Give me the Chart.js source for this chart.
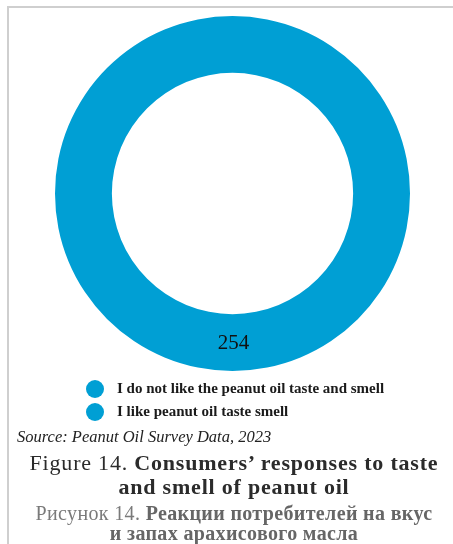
<!DOCTYPE html>
<html lang="en">
<head>
<meta charset="utf-8">
<title>Consumers' responses to taste and smell of peanut oil</title>
<script src="https://cdn.jsdelivr.net/npm/chart.js@4.4.1/dist/chart.umd.min.js"></script>
<style>
  html, body { margin: 0; padding: 0; background: #fff; }
  body { width: 453px; height: 544px; position: relative; overflow: hidden; }
  .frame {
    position: absolute; left: 7px; top: 6px; right: -4px; bottom: -4px;
    border-top: 2px solid #cfcfcf; border-left: 2px solid #cfcfcf;
  }
  .chart-box { position: absolute; left: 0; top: 0; width: 453px; height: 387px; }
  .legend { position: absolute; left: 86px; top: 377px; margin: 0; padding: 0; list-style: none; }
  .legend li {
    display: flex; align-items: center; height: 23px;
    font: bold 15px "Liberation Serif", "Times New Roman", serif; color: #1a1a1a;
  }
  .legend i { display: inline-block; width: 18px; height: 18px; border-radius: 50%; margin-right: 13px; }
  .source {
    position: absolute; left: 17px; top: 427px;
    font: italic 16.5px "Liberation Serif", serif; color: #222;
  }
  .caption { position: absolute; left: 0; width: 468px; text-align: center; font-family: "Liberation Serif", serif; }
  .caption.en { top: 451px; font-size: 22px; line-height: 24px; letter-spacing: 0.8px; color: #2b2b2b; }
  .caption.ru { top: 503px; font-size: 20px; line-height: 20px; letter-spacing: 0.35px; color: #7a7a7a; }
  .caption b { font-weight: bold; }
  .caption.ru b { color: #666; }
</style>
</head>
<body>
<div class="frame"></div>
<div class="chart-box"><canvas id="tasteChart"></canvas></div>
<ul class="legend" id="tasteLegend"></ul>
<div class="source">Source: Peanut Oil Survey Data, 2023</div>
<div class="caption en">Figure 14. <b>Consumers’ responses to taste<br>and smell of peanut oil</b></div>
<div class="caption ru">Рисунок 14. <b>Реакции потребителей на вкус<br>и запах арахисового масла</b></div>

<script>
  const categories = [
    "I do not like the peanut oil taste and smell",
    "I like peanut oil taste smell"
  ];
  const responses = [0, 254];
  const sliceColors = ["#009fd4", "#009fd4"];

  // writes each non-zero value in the middle of its ring segment
  const valueLabels = {
    id: "valueLabels",
    afterDatasetsDraw(chart) {
      const ctx = chart.ctx;
      const meta = chart.getDatasetMeta(0);
      ctx.save();
      ctx.font = '21px "Liberation Serif", "Times New Roman", serif';
      ctx.fillStyle = "#111";
      ctx.textAlign = "center";
      ctx.textBaseline = "middle";
      meta.data.forEach((arc, i) => {
        const v = chart.data.datasets[0].data[i];
        if (!v) return;
        const p = arc.tooltipPosition();
        ctx.fillText(String(v), p.x + 1, p.y + 1);
      });
      ctx.restore();
    }
  };

  const chart = new Chart(document.getElementById("tasteChart"), {
    type: "doughnut",
    data: {
      labels: categories,
      datasets: [{
        data: responses,
        backgroundColor: sliceColors,
        borderWidth: 0,
        hoverOffset: 0
      }]
    },
    options: {
      responsive: true,
      maintainAspectRatio: false,
      animation: false,
      radius: 177.5,
      cutout: 131.5,
      layout: { padding: { left: 12 } },
      plugins: {
        legend: { display: false },
        tooltip: { enabled: false }
      }
    },
    plugins: [valueLabels]
  });

  // legend list built from the chart's own labels and colours
  const legendEl = document.getElementById("tasteLegend");
  legendEl.innerHTML = chart.data.labels.map((label, i) =>
    `<li><i style="background:${chart.data.datasets[0].backgroundColor[i]}"></i>${label}</li>`
  ).join("");
</script>
</body>
</html>
